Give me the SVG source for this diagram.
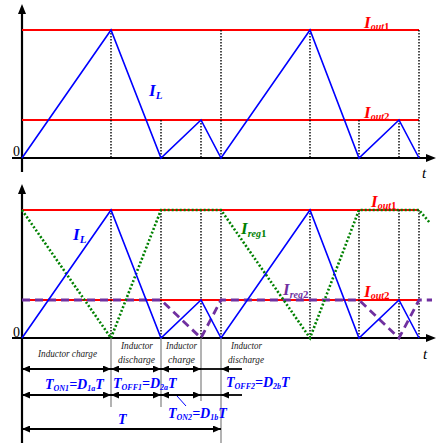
<svg xmlns="http://www.w3.org/2000/svg" width="436" height="443" viewBox="0 0 436 443">
<defs>
<marker id="ah" viewBox="0 0 8 7" refX="8" refY="3.5" markerWidth="8" markerHeight="7" markerUnits="userSpaceOnUse" orient="auto-start-reverse"><path d="M0,0 L8,3.5 L0,7 z" fill="#000"/></marker>
</defs>
<style>
.ax{stroke:#000;stroke-width:2.2;fill:none}
.red{stroke:#ff0000;stroke-width:2;fill:none}
.blue{stroke:#0000ff;stroke-width:1.6;fill:none;stroke-linejoin:miter}
.vd{stroke:#000;stroke-width:1.4;stroke-dasharray:1.5 1.5;fill:none}
.grn{stroke:#008000;stroke-width:2.6;stroke-dasharray:2 2;fill:none}
.pur{stroke:#7030a0;stroke-width:2.8;stroke-dasharray:8 5;fill:none}
.gv{stroke:#808080;stroke-width:1.2;fill:none}
.dim{stroke:#000;stroke-width:1.8;fill:none}
.lbl{font-family:"Liberation Serif",serif;font-style:italic;font-weight:bold}
.tx{font-family:"Liberation Serif",serif;font-style:italic;font-size:10px;fill:#222}
.num{font-family:"Liberation Serif",serif;font-size:14px;fill:#000}
.tt{font-family:"Liberation Serif",serif;font-style:italic;font-size:15px;fill:#000}
.bl{fill:#0000ff}
.dg{font-size:11px;font-style:normal}
</style>
<g id="connectors">
<g id="top-axes">
<line class="ax" x1="22" y1="172" x2="22" y2="12"/>
<polygon points="22,4 18,14 26,14" fill="#000"/>
<line class="ax" x1="12" y1="158" x2="428" y2="158"/>
<polygon points="436,158 426,154 426,162" fill="#000"/>
</g>
<line class="red" x1="22" y1="30" x2="419" y2="30"/>
<line class="red" x1="22" y1="120" x2="419" y2="120"/>
<g>
<line class="vd" x1="111" y1="30" x2="111" y2="158"/>
<line class="vd" x1="161" y1="120" x2="161" y2="158"/>
<line class="vd" x1="201" y1="120" x2="201" y2="158"/>
<line class="vd" x1="221" y1="30" x2="221" y2="158"/>
<line class="vd" x1="310" y1="30" x2="310" y2="158"/>
<line class="vd" x1="359" y1="120" x2="359" y2="158"/>
<line class="vd" x1="399" y1="120" x2="399" y2="158"/>
<line class="vd" x1="419" y1="30" x2="419" y2="158"/>
</g>
<polyline class="blue" points="22,158 111,30 161,158 201,120 221,158 310,30 359,158 399,120 419,158"/>
<g id="bottom-axes">
<line class="ax" x1="22" y1="443" x2="22" y2="192"/>
<polygon points="22,184 18,194 26,194" fill="#000"/>
<line class="ax" x1="12" y1="338" x2="428" y2="338"/>
<polygon points="436,338 426,334 426,342" fill="#000"/>
</g>
<line class="red" x1="22" y1="210" x2="419" y2="210"/>
<line class="red" x1="22" y1="300" x2="419" y2="300"/>
<g>
<line class="vd" x1="111" y1="210" x2="111" y2="338"/>
<line class="vd" x1="161" y1="210" x2="161" y2="338"/>
<line class="vd" x1="201" y1="210" x2="201" y2="338"/>
<line class="vd" x1="221" y1="210" x2="221" y2="338"/>
<line class="vd" x1="310" y1="210" x2="310" y2="338"/>
<line class="vd" x1="359" y1="210" x2="359" y2="338"/>
<line class="vd" x1="399" y1="210" x2="399" y2="338"/>
<line class="vd" x1="419" y1="210" x2="419" y2="338"/>
</g>
<polyline class="pur" points="22,300 161,300 201,338 221,300 359,300 399,338 419,300 432,300"/>
<polyline class="grn" points="22,210 111,338 161,210 221,210 310,338 359,210 419,210 430,223"/>
<polyline class="blue" points="22,338 111,210 161,338 201,300 221,338 310,210 359,338 399,300 419,338"/>
<g>
<line class="gv" x1="111" y1="338" x2="111" y2="407"/>
<line class="gv" x1="161" y1="338" x2="161" y2="407"/>
<line class="gv" x1="201" y1="338" x2="201" y2="401"/>
<line class="gv" x1="221" y1="338" x2="221" y2="443"/>
</g>
<g>
<line class="dim" x1="22" y1="369" x2="111" y2="369" marker-start="url(#ah)" marker-end="url(#ah)"/>
<line class="dim" x1="111" y1="369" x2="161" y2="369" marker-start="url(#ah)" marker-end="url(#ah)"/>
<line class="dim" x1="161" y1="369" x2="201" y2="369" marker-start="url(#ah)" marker-end="url(#ah)"/>
<line class="dim" x1="201" y1="369" x2="221" y2="369"/>
<line class="dim" x1="221" y1="369" x2="242" y2="369" marker-start="url(#ah)"/>
<line class="dim" x1="22" y1="395" x2="111" y2="395" marker-start="url(#ah)" marker-end="url(#ah)"/>
<line class="dim" x1="111" y1="395" x2="161" y2="395" marker-start="url(#ah)" marker-end="url(#ah)"/>
<line class="dim" x1="161" y1="395" x2="201" y2="395" marker-start="url(#ah)" marker-end="url(#ah)"/>
<line class="dim" x1="201" y1="395" x2="221" y2="395"/>
<line class="dim" x1="221" y1="395" x2="242" y2="395" marker-start="url(#ah)"/>
<line class="dim" x1="22" y1="429" x2="221" y2="429" marker-start="url(#ah)" marker-end="url(#ah)"/>
<line x1="177" y1="396" x2="186" y2="406" stroke="#0000ff" stroke-width="1"/>
</g>
</g>
<g id="labels-top">
<text class="num" x="13" y="156">0</text>
<text class="lbl" x="149" y="96" font-size="17" fill="#0000ff">I<tspan font-size="11" dy="3">L</tspan></text>
<text class="lbl" x="364" y="28" font-size="17" fill="#ff0000">I<tspan font-size="10" dy="2">out</tspan><tspan class="dg">1</tspan></text>
<text class="lbl" x="364" y="118" font-size="17" fill="#ff0000">I<tspan font-size="10" dy="2">out</tspan><tspan class="dg">2</tspan></text>
<text class="tt" x="422" y="178">t</text>
</g>
<g id="labels-bottom">
<text class="num" x="13" y="337">0</text>
<text class="lbl" x="73" y="240" font-size="17" fill="#0000ff">I<tspan font-size="11" dy="3">L</tspan></text>
<text class="lbl" x="241" y="234" font-size="17" fill="#008000">I<tspan font-size="10" dy="3">reg</tspan><tspan class="dg">1</tspan></text>
<text class="lbl" x="283" y="295" font-size="17" fill="#7030a0">I<tspan font-size="10" dy="3">reg</tspan><tspan class="dg">2</tspan></text>
<text class="lbl" x="371" y="207" font-size="17" fill="#ff0000">I<tspan font-size="10" dy="2">out</tspan><tspan class="dg">1</tspan></text>
<text class="lbl" x="364" y="297" font-size="17" fill="#ff0000">I<tspan font-size="10" dy="2">out</tspan><tspan class="dg">2</tspan></text>
<text class="tt" x="423" y="359">t</text>
</g>
<g id="labels-timing">
<text class="tx" x="38" y="357" textLength="59" lengthAdjust="spacingAndGlyphs">Inductor charge</text>
<text class="tx" x="121" y="349" textLength="32" lengthAdjust="spacingAndGlyphs">Inductor</text>
<text class="tx" x="118" y="363" textLength="37" lengthAdjust="spacingAndGlyphs">discharge</text>
<text class="tx" x="166" y="349" textLength="31" lengthAdjust="spacingAndGlyphs">Inductor</text>
<text class="tx" x="168" y="363" textLength="27" lengthAdjust="spacingAndGlyphs">charge</text>
<text class="tx" x="231" y="349" textLength="31" lengthAdjust="spacingAndGlyphs">Inductor</text>
<text class="tx" x="228" y="363" textLength="36" lengthAdjust="spacingAndGlyphs">discharge</text>
<text class="lbl bl" x="45" y="389" font-size="14">T<tspan font-size="8" dy="2">ON1</tspan><tspan dy="-2">=D</tspan><tspan font-size="8" dy="2">1a</tspan><tspan dy="-2">T</tspan></text>
<text class="lbl bl" x="113" y="388" font-size="14">T<tspan font-size="8" dy="2">OFF1</tspan><tspan dy="-2">=D</tspan><tspan font-size="8" dy="2">2a</tspan><tspan dy="-2">T</tspan></text>
<text class="lbl bl" x="226" y="387" font-size="14">T<tspan font-size="8" dy="2">OFF2</tspan><tspan dy="-2">=D</tspan><tspan font-size="8" dy="2">2b</tspan><tspan dy="-2">T</tspan></text>
<text class="lbl bl" x="168" y="418" font-size="14">T<tspan font-size="8" dy="2">ON2</tspan><tspan dy="-2">=D</tspan><tspan font-size="8" dy="2">1b</tspan><tspan dy="-2">T</tspan></text>
<text class="lbl bl" x="118" y="424" font-size="14">T</text>
</g>
</svg>
